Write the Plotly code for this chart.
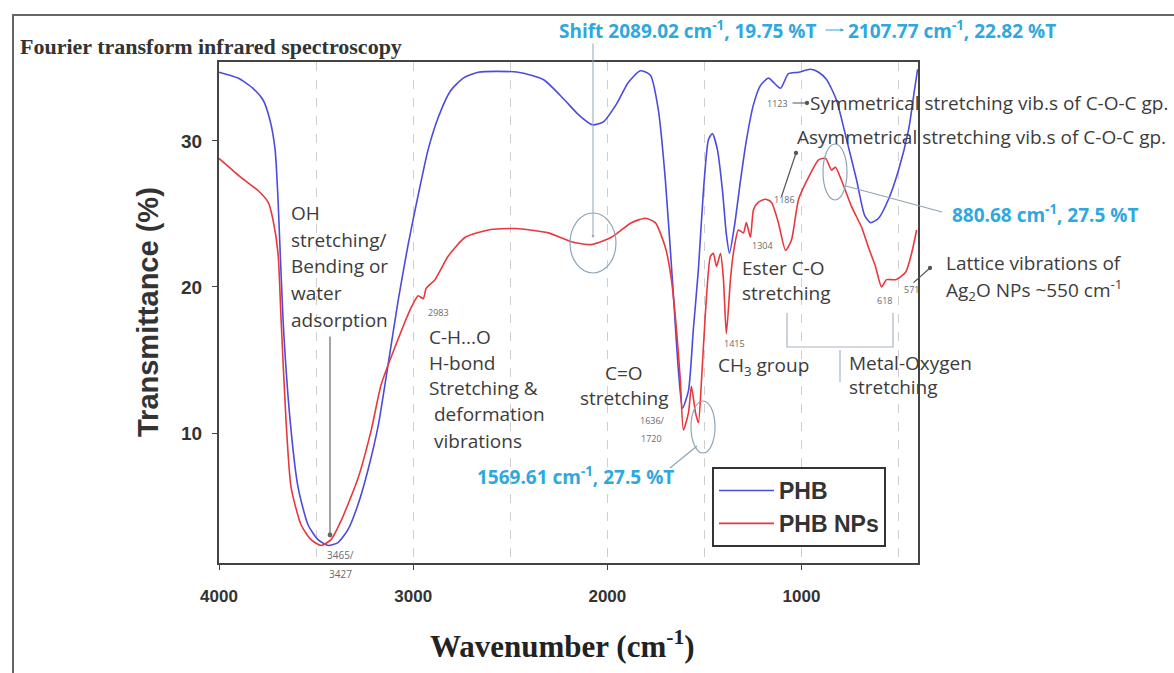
import plotly.graph_objects as go

# ---------------- data ----------------
phb_wavenumber = [4000, 3902, 3825, 3773, 3737, 3711, 3696, 3670, 3634, 3593, 3541, 3490, 3438, 3387,
                  3335, 3284, 3232, 3180, 3129, 3077, 3026, 2974, 2923, 2871, 2809, 2742, 2665, 2459,
                  2330, 2227, 2149, 2077, 2021, 1954, 1892, 1830, 1778, 1737, 1701, 1665, 1634, 1613,
                  1582, 1557, 1531, 1505, 1479, 1459, 1433, 1407, 1387, 1371, 1345, 1314, 1283, 1247,
                  1211, 1170, 1144, 1108, 1067, 1015, 954, 912, 871, 820, 768, 716, 675, 644, 603, 552,
                  500, 448, 418, 402]
phb_transmittance = [34.7, 34.3, 33.6, 32.8, 31.4, 29.4, 26.0, 17.7, 10.9, 6.3, 3.7, 2.7, 2.3, 2.5,
                     3.4, 5.1, 7.5, 10.5, 14.7, 19.1, 22.9, 26.3, 29.4, 31.6, 33.4, 34.3, 34.7, 34.7,
                     34.2, 32.9, 31.8, 31.1, 31.3, 32.5, 34.0, 34.8, 34.5, 32.1, 27.3, 20.5, 14.3, 11.7,
                     12.9, 17.1, 21.2, 26.6, 30.1, 30.5, 29.4, 26.6, 23.6, 22.3, 24.2, 27.3, 30.1, 32.5,
                     33.8, 34.3, 34.0, 33.6, 34.6, 34.7, 34.9, 34.7, 34.2, 32.8, 30.1, 27.3, 24.9, 24.4,
                     24.7, 26.0, 28.0, 30.8, 33.5, 34.9]

nps_wavenumber = [4000, 3887, 3799, 3747, 3722, 3696, 3680, 3655, 3629, 3577, 3526, 3474, 3423, 3371,
                  3284, 3216, 3165, 3093, 3010, 2974, 2948, 2933, 2887, 2820, 2732, 2613, 2474, 2304,
                  2186, 2082, 1979, 1876, 1804, 1753, 1701, 1670, 1644, 1624, 1608, 1582, 1567, 1546,
                  1531, 1515, 1495, 1469, 1454, 1438, 1417, 1402, 1387, 1366, 1351, 1325, 1299, 1284,
                  1263, 1247, 1222, 1186, 1155, 1119, 1082, 1052, 1015, 964, 912, 876, 845, 825, 794,
                  742, 691, 655, 619, 588, 562, 515, 464, 433, 407]
nps_transmittance = [28.8, 27.5, 26.6, 25.8, 24.6, 22.3, 17.7, 10.9, 6.3, 3.7, 2.7, 2.3, 2.7, 4.0,
                     6.9, 10.2, 13.3, 15.9, 18.6, 19.4, 19.2, 19.9, 20.5, 22.1, 23.4, 23.9, 24.0, 23.7,
                     23.1, 22.9, 23.4, 24.4, 24.7, 24.4, 22.7, 20.5, 17.1, 13.6, 10.2, 11.4, 13.2, 11.4,
                     10.7, 13.6, 18.2, 22.1, 22.3, 21.4, 22.3, 20.5, 16.8, 20.5, 22.3, 23.9, 23.7, 24.4,
                     23.4, 25.3, 25.8, 26.0, 25.8, 24.4, 22.5, 23.2, 26.0, 27.5, 28.7, 28.8, 28.0, 28.2,
                     27.3, 25.5, 24.1, 22.7, 21.4, 20.0, 20.5, 20.5, 21.0, 22.3, 23.9]

series_names = ["PHB", "PHB NPs"]
x_tick_values = [4000, 3000, 2000, 1000]
x_tick_labels = ["4000", "3000", "2000", "1000"]
x_grid_values = [3500, 3000, 2500, 2000, 1500, 1000, 500]
y_tick_values = [10, 20, 30]
y_tick_labels = ["10", "20", "30"]

# ---------------- layout helpers ----------------
W, H = 1174, 673
L, R, T, B = 219, 918, 62, 563


def px(x):
    return (x - L) / (R - L)


def py(y):
    return (B - y) / (B - T)


TEXT = "#3c3c3c"
CYAN = "#2ea8de"
SMALL = "#6a6a6a"
GUIDE = "#8fa5b5"
FONT = "Open Sans"

annotations = []
shapes = []


def label(text, x, y, size=19, color=TEXT, anchor="left", family=FONT, weight="normal", angle=0):
    annotations.append(dict(text=text, x=px(x), y=py(y), xref="paper", yref="paper",
                            xanchor=anchor, yanchor="middle", showarrow=False, textangle=angle,
                            font=dict(size=size, color=color, family=family, weight=weight)))


def lines(texts, x, y0, dy, **kw):
    for i, t in enumerate(texts):
        label(t, x, y0 + i * dy, **kw)


def pointer(hx, hy, tx, ty, color="#555", head=6, size=0.9, width=1.2):
    annotations.append(dict(text="", x=px(hx), y=py(hy), xref="paper", yref="paper",
                            ax=tx - hx, ay=ty - hy, axref="pixel", ayref="pixel",
                            showarrow=True, arrowhead=head, arrowsize=size, arrowwidth=width,
                            arrowcolor=color))


def seg(x0, y0, x1, y1, color=GUIDE, width=1.2):
    shapes.append(dict(type="line", xref="paper", yref="paper", x0=px(x0), y0=py(y0),
                       x1=px(x1), y1=py(y1), line=dict(color=color, width=width)))


def ellipse(cx, cy, rx, ry, color=GUIDE):
    shapes.append(dict(type="circle", xref="paper", yref="paper", x0=px(cx - rx), x1=px(cx + rx),
                       y0=py(cy + ry), y1=py(cy - ry), line=dict(color=color, width=1.2)))


# ---------------- figure ----------------
fig = go.Figure()
fig.add_trace(go.Scatter(x=phb_wavenumber, y=phb_transmittance, mode="lines", name=series_names[0],
                         line=dict(color="#4b4bdc", width=1.6, shape="spline", smoothing=0.6)))
fig.add_trace(go.Scatter(x=nps_wavenumber, y=nps_transmittance, mode="lines", name=series_names[1],
                         line=dict(color="#e8383d", width=1.6, shape="spline", smoothing=0.6)))

# outer frame of the original figure
shapes.append(dict(type="line", xref="paper", yref="paper", x0=px(13), x1=px(13), y0=py(15), y1=py(680),
                   line=dict(color="#666", width=2)))
shapes.append(dict(type="line", xref="paper", yref="paper", x0=px(12), x1=px(1180), y0=py(15), y1=py(15),
                   line=dict(color="#666", width=2)))

# titles
label("Fourier transform infrared spectroscopy", 18, 46, size=22, color="#333",
      family="Liberation Serif", weight="bold")
label("Transmittance (%)", 148, 312, size=29, color="#333", anchor="center",
      family="Liberation Sans", weight="bold", angle=-90)
label("Wavenumber (cm<sup>-1</sup>)", 562, 645, size=31, color="#222", anchor="center",
      family="Liberation Serif", weight="bold")

# cyan peak-shift notes
CY = dict(size=19, color=CYAN, weight="bold")
label("Shift 2089.02 cm<sup>-1</sup>, 19.75 %T", 557, 30, **CY)
label("2107.77 cm<sup>-1</sup>, 22.82 %T", 846, 30, **CY)
pointer(844, 30, 824, 30, color=CYAN, head=2, size=0.7, width=1)
pointer(593, 238, 593, 42, color=GUIDE, head=2, size=0.6, width=1)
ellipse(593, 243, 23, 30)

label("1569.61 cm<sup>-1</sup>, 27.5 %T", 475, 476, **CY)
ellipse(703, 427, 12, 26)
seg(697, 446, 670, 468)

label("880.68 cm<sup>-1</sup>, 27.5 %T", 950, 214, **CY)
ellipse(835, 172, 12, 28)
seg(846, 186, 942, 212)

# band assignments
lines(["OH", "stretching/", "Bending or", "water", "adsorption"], 289, 213, 26.7)
pointer(330, 535, 330, 335, color="#666", head=6, size=1.0, width=1.2)
label("3465/", 325, 555, size=10, color=SMALL)
label("3427", 327, 574, size=10, color=SMALL)

label("2983", 438, 312, size=9, color=SMALL, anchor="center")
lines(["C-H...O", "H-bond", "Stretching &"], 427, 337, 25.5)
lines(["deformation", "vibrations"], 432, 414, 27)

lines(["C=O", "stretching"], 624, 373, 25, anchor="center")
label("1636/", 667, 420, size=9, color=SMALL, anchor="right")
label("1720", 664, 438, size=9, color=SMALL, anchor="right")

label("1415", 722, 343, size=9, color=SMALL)
label("CH<sub>3</sub> group", 716, 366)

label("1304", 750, 245, size=9, color=SMALL)
lines(["Ester C-O", "stretching"], 740, 268, 25)

label("1186", 772, 200, size=9, color=SMALL)
pointer(796, 153, 781, 198, color="#555", head=6, size=0.9, width=1.2)
label("Asymmetrical stretching vib.s of C-O-C gp.", 795, 137)

label("1123", 765, 103, size=9, color=SMALL)
pointer(807, 103, 791, 103, color="#555", head=6, size=0.9, width=1.2)
label("Symmetrical stretching vib.s of C-O-C gp.", 808, 103)

label("618", 884, 300, size=9, color=SMALL, anchor="center")
label("571", 902, 289, size=9, color=SMALL)
pointer(930, 268, 912, 284, color="#555", head=6, size=0.9, width=1.2)
lines(["Lattice vibrations of", "Ag<sub>2</sub>O NPs ~550 cm<sup>-1</sup>"], 944, 263, 27)

shapes.append(dict(type="path", xref="paper", yref="paper",
                   path=f"M{px(787)},{py(313)} L{px(787)},{py(347)} L{px(893)},{py(347)} L{px(893)},{py(313)}",
                   line=dict(color="#a9b4bd", width=1.2)))
seg(840, 350, 840, 382, color="#9fb3d8")
lines(["Metal-Oxygen", "stretching"], 847, 363, 24)

fig.update_layout(
    width=W, height=H, autosize=False,
    margin=dict(l=L, r=W - R, t=T, b=H - B, pad=0),
    paper_bgcolor="white", plot_bgcolor="white",
    showlegend=True,
    legend=dict(x=px(712), y=py(467), xanchor="left", yanchor="top",
                bordercolor="#333", borderwidth=2, bgcolor="white", itemwidth=55,
                font=dict(family="Liberation Sans", size=23, color="#333", weight="bold"),
                tracegroupgap=0),
    annotations=annotations, shapes=shapes,
)
fig.update_xaxes(range=[4000, 400], tickmode="array", tickvals=x_tick_values, ticktext=x_tick_labels,
                 ticks="outside", ticklen=5, tickcolor="#444", ticklabelstandoff=12,
                 tickfont=dict(family="Liberation Sans", size=17, color="#333", weight="bold"),
                 showline=True, linecolor="#444", linewidth=2, mirror=True,
                 showgrid=True, gridcolor="#cfcfcf", griddash="dash", gridwidth=1, zeroline=False,
                 minor=dict(tickvals=x_grid_values, showgrid=True, gridcolor="#cfcfcf",
                            griddash="dash", gridwidth=1, ticks=""))
fig.update_yaxes(range=[1.1, 35.4], tickmode="array", tickvals=y_tick_values, ticktext=y_tick_labels,
                 ticks="outside", ticklen=5, tickcolor="#444", ticklabelstandoff=6,
                 tickfont=dict(family="Liberation Sans", size=19, color="#333", weight="bold"),
                 showline=True, linecolor="#444", linewidth=2, mirror=True,
                 showgrid=False, zeroline=False)

fig.write_html("out.html")
